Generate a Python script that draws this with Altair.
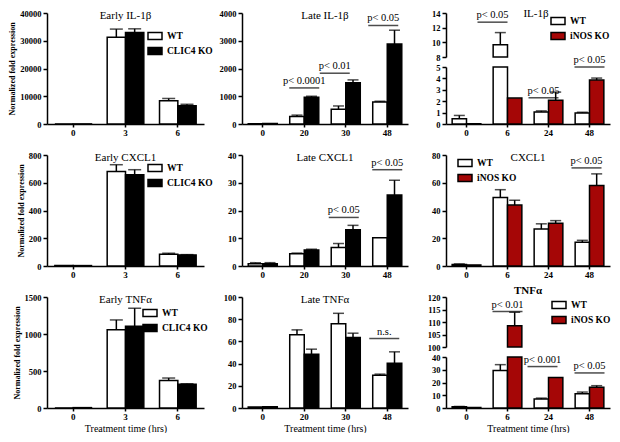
import altair as alt
import pandas as pd

FONT = "Liberation Serif"
RED = "#a50606"

# ---------------- data ----------------
early_times = ["0", "3", "6"]
late_times = ["0", "20", "30", "48"]
inos_times = ["0", "6", "24", "48"]

# Early IL-1b (WT vs CLIC4 KO)
e_il1b_wt = [0, 31300, 8400]
e_il1b_wt_err = [0, 2900, 800]
e_il1b_ko = [30, 33000, 6600]
e_il1b_ko_err = [0, 1300, 500]

# Late IL-1b
l_il1b_wt = [5, 270, 530, 790]
l_il1b_wt_err = [0, 50, 120, 30]
l_il1b_ko = [20, 965, 1490, 2880]
l_il1b_ko_err = [0, 35, 100, 500]
l_il1b_notes_t = ["20", "30", "48"]
l_il1b_notes_y = [1300, 1830, 3550]
l_il1b_notes = ["p< 0.0001", "p< 0.01", "p< 0.05"]

# IL-1b (WT vs iNOS KO), broken axis
i_il1b_wt = [0.45, 9.67, 1.06, 0.97]
i_il1b_wt_err = [0.3, 1.66, 0.09, 0.06]
i_il1b_ko = [0.02, 2.27, 2.09, 3.85]
i_il1b_ko_err = [0, 0, 0.71, 0.18]
i_il1b_notes_t = ["6", "24", "48"]
i_il1b_notes_y = [12.75, 2.3, 5.0]
i_il1b_notes = ["p< 0.05", "p< 0.05", "p< 0.05"]

# Early CXCL1
e_cxcl1_wt = [3, 681, 85]
e_cxcl1_wt_err = [0, 49, 7]
e_cxcl1_ko = [3, 657, 80]
e_cxcl1_ko_err = [0, 37, 2]

# Late CXCL1
l_cxcl1_wt = [0.8, 4.4, 6.7, 10.2]
l_cxcl1_wt_err = [0.4, 0.25, 1.4, 0]
l_cxcl1_ko = [0.8, 5.8, 13.1, 25.6]
l_cxcl1_ko_err = [0.4, 0.25, 1.55, 5.3]
l_cxcl1_notes_t = ["30", "48"]
l_cxcl1_notes_y = [17.5, 34.7]
l_cxcl1_notes = ["p< 0.05", "p< 0.05"]

# CXCL1 (iNOS)
i_cxcl1_wt = [1.0, 49.4, 26.6, 17.1]
i_cxcl1_wt_err = [0.5, 5.6, 3.8, 1.4]
i_cxcl1_ko = [0.8, 43.9, 30.8, 58.1]
i_cxcl1_ko_err = [0, 3.5, 1.9, 8.3]
i_cxcl1_notes_t = ["48"]
i_cxcl1_notes_y = [70.7]
i_cxcl1_notes = ["p< 0.05"]

# Early TNFa
e_tnf_wt = [0, 1057, 371]
e_tnf_wt_err = [0, 133, 34]
e_tnf_ko = [5, 1105, 320]
e_tnf_ko_err = [0, 243, 8]

# Late TNFa
l_tnf_wt = [1.0, 65.9, 76.0, 29.6]
l_tnf_wt_err = [0, 4.5, 9.3, 0.9]
l_tnf_ko = [1.2, 48.5, 63.5, 40.4]
l_tnf_ko_err = [0, 4.5, 3.9, 10.2]
l_tnf_notes_t = ["48"]
l_tnf_notes_y = [62.6]
l_tnf_notes = ["n.s."]

# TNFa (iNOS), broken axis
i_tnf_wt = [1.0, 29.5, 7.0, 11.25]
i_tnf_wt_err = [0.2, 4.5, 0.75, 1.25]
i_tnf_ko = [0.3, 108.5, 24.0, 16.25]
i_tnf_ko_err = [0, 5.4, 0, 1.25]
i_tnf_notes_t = ["6", "24", "48"]
i_tnf_notes_y = [114.2, 32.5, 27.5]
i_tnf_notes = ["p< 0.01", "p< 0.001", "p< 0.05"]


# ---------------- helpers ----------------
def frame(times, wt, wt_err, ko, ko_err, ko_name):
    rows = []
    for t, v, e in zip(times, wt, wt_err):
        rows.append({"time": t, "group": "WT", "value": v, "err": e, "top": v + e})
    for t, v, e in zip(times, ko, ko_err):
        rows.append({"time": t, "group": ko_name, "value": v, "err": e, "top": v + e})
    return pd.DataFrame(rows)


def notes_frame(ts, ys, labels):
    return pd.DataFrame({"time": ts, "y": ys, "label": labels})


def x_enc(times, xaxis, xtitle):
    xscale = alt.Scale(domain=times, paddingInner=0.3, paddingOuter=0.15)
    if xaxis:
        xax = alt.Axis(
            title="Treatment time (hrs)" if xtitle else None,
            labelAngle=0, labelFont=FONT, labelFontWeight="bold", labelFontSize=9,
            labelColor="black", labelPadding=1, tickSize=3, tickWidth=1.5,
            tickColor="black", domainColor="black", domainWidth=1.5,
            titleFont=FONT, titleFontSize=10, titleFontWeight="normal",
            titleColor="black", titlePadding=2,
        )
    else:
        xax = None
    return alt.X("time:N", sort=times, scale=xscale, axis=xax)


def y_axis(ticks, ytitle=False):
    return alt.Axis(
        values=ticks, tickCount=len(ticks), format="d", orient="left",
        labelOverlap=False, labelFlush=False, labelBound=False,
        title="Normalized fold expression" if ytitle else None,
        labelFont=FONT, labelFontWeight="bold", labelFontSize=8.5, labelColor="black",
        labelPadding=2, tickSize=4, tickWidth=1.5, tickColor="black",
        domainColor="black", domainWidth=1.5, grid=False,
        titleFont=FONT, titleFontSize=8, titleFontWeight="bold", titleColor="black",
        titlePadding=3,
    )


def fill_enc(ko_name, ko_color, legend_pos):
    grp = ["WT", ko_name]
    if legend_pos is not None:
        leg = alt.Legend(
            title=None, orient="none", legendX=legend_pos[0], legendY=legend_pos[1],
            symbolType="M-1,-0.5H1V0.5H-1Z", symbolSize=196,
            symbolStrokeColor="black", symbolStrokeWidth=1.5,
            labelFont=FONT, labelFontSize=9.5, labelFontWeight="bold",
            labelColor="black", labelOffset=4, rowPadding=0, padding=0,
        )
    else:
        leg = None
    return alt.Fill("group:N", sort=grp,
                    scale=alt.Scale(domain=grp, range=["white", ko_color]), legend=leg)


def sublayer(df, times, ko_name, ko_color, yscale, yax, legend_pos, notes, note_dx,
             note_size, xaxis, xtitle, cap, bar_filter=None, err_filter=None):
    grp = ["WT", ko_name]
    x = x_enc(times, xaxis, xtitle)
    xo = alt.XOffset("group:N", sort=grp,
                     scale=alt.Scale(domain=grp, paddingInner=0, paddingOuter=0))
    fill = fill_enc(ko_name, ko_color, legend_pos)
    base = alt.Chart(df)
    bbase = base.transform_filter(bar_filter) if bar_filter else base
    bars = bbase.mark_bar(stroke="black", strokeWidth=1.5).encode(
        x=x, xOffset=xo, y=alt.Y("value:Q", scale=yscale, axis=yax), fill=fill
    )
    ef = "datum.err > 0" + (" && " + err_filter if err_filter else "")
    errdf = base.transform_filter(ef)
    rules = errdf.mark_rule(color="black", strokeWidth=1.5).encode(
        x=x, xOffset=xo, y=alt.Y("value:Q", axis=yax), y2="top:Q"
    )
    caps = errdf.mark_tick(color="black", thickness=1.5, size=cap).encode(
        x=x, xOffset=xo, y=alt.Y("top:Q", axis=yax)
    )
    layers = [bars, rules, caps]
    if notes is not None:
        for i in range(len(notes)):
            row = notes.iloc[[i]]
            dx = note_dx.get(row["time"].iloc[0], 0) if note_dx else 0
            nb = alt.Chart(row)
            layers.append(nb.mark_tick(color="black", thickness=1.5, size=note_size,
                                       xOffset=dx).encode(x=x, y=alt.Y("y:Q", axis=yax)))
            layers.append(nb.mark_text(font=FONT, fontSize=10.5, baseline="bottom",
                                       dy=-2, dx=dx, color="black").encode(
                x=x, y=alt.Y("y:Q", axis=yax), text="label:N"))
    return alt.layer(*layers)


def titled(ch, title, bold=False, offset=-12, dx=0):
    return ch.properties(title=alt.TitleParams(
        title, font=FONT, fontSize=11, fontWeight="bold" if bold else "normal",
        color="black", offset=offset, dx=dx))


def panel(df, times, ko_name, ko_color, domain, ticks, width, height, title,
          legend_pos=None, notes=None, note_dx=None, note_size=30, xtitle=False,
          ytitle=False, cap=11, title_bold=False):
    ys = alt.Scale(domain=domain, nice=False, zero=False)
    ch = sublayer(df, times, ko_name, ko_color, ys, y_axis(ticks, ytitle), legend_pos,
                  notes, note_dx, note_size, True, xtitle, cap)
    ch = ch.properties(width=width, height=height)
    return titled(ch, title, title_bold)


def broken_panel(df, times, ko_name, ko_color, low_dom, low_ticks, up_dom, up_ticks,
                 width, height, up_h, gap, title, legend_pos=None, notes=None,
                 note_dx=None, note_size=30, xtitle=False, cap=11, title_bold=False,
                 title_offset=-12, title_dx=0):
    lo_scale = alt.Scale(domain=low_dom, range=[height, up_h + gap], nice=False,
                         zero=False, clamp=True)
    up_scale = alt.Scale(domain=up_dom, range=[up_h, 0], nice=False, zero=False,
                         clamp=True)
    lo_notes = notes[notes["y"] <= low_dom[1]] if notes is not None else None
    up_notes = notes[notes["y"] >= up_dom[0]] if notes is not None else None
    lower = sublayer(df, times, ko_name, ko_color, lo_scale, y_axis(low_ticks),
                     legend_pos, lo_notes, note_dx, note_size, True, xtitle, cap,
                     err_filter=f"datum.top <= {low_dom[1]}")
    upper = sublayer(df, times, ko_name, ko_color, up_scale, y_axis(up_ticks),
                     legend_pos, up_notes, note_dx, note_size, True, xtitle, cap,
                     bar_filter=f"datum.value > {up_dom[0]}",
                     err_filter=f"datum.value >= {up_dom[0]}")
    ch = alt.layer(lower, upper).resolve_scale(y="independent").properties(
        width=width, height=height)
    return titled(ch, title, title_bold, title_offset, title_dx)


W1, W2, W3 = 157, 166, 164
H = 111

p1 = panel(frame(early_times, e_il1b_wt, e_il1b_wt_err, e_il1b_ko, e_il1b_ko_err, "CLIC4 KO"),
           early_times, "CLIC4 KO", "black", [0, 40000], [0, 10000, 20000, 30000, 40000],
           W1, H, "Early IL-1β", legend_pos=(100, 15), ytitle=True, cap=13)
p2 = panel(frame(late_times, l_il1b_wt, l_il1b_wt_err, l_il1b_ko, l_il1b_ko_err, "CLIC4 KO"),
           late_times, "CLIC4 KO", "black", [0, 4000], [0, 1000, 2000, 3000, 4000],
           W2, H, "Late IL-1β",
           notes=notes_frame(l_il1b_notes_t, l_il1b_notes_y, l_il1b_notes),
           note_dx={"30": -11, "48": -4})
p3 = broken_panel(frame(inos_times, i_il1b_wt, i_il1b_wt_err, i_il1b_ko, i_il1b_ko_err, "iNOS KO"),
                  inos_times, "iNOS KO", RED, [0, 5], [0, 1, 2, 3, 4, 5], [8, 14], [8, 10, 12, 14],
                  W3, H, 44, 10, "IL-1β", legend_pos=(104, 0),
                  notes=notes_frame(i_il1b_notes_t, i_il1b_notes_y, i_il1b_notes),
                  note_dx={"6": -15, "24": -5}, title_dx=8, title_offset=-10)

p4 = panel(frame(early_times, e_cxcl1_wt, e_cxcl1_wt_err, e_cxcl1_ko, e_cxcl1_ko_err, "CLIC4 KO"),
           early_times, "CLIC4 KO", "black", [0, 800], [0, 200, 400, 600, 800],
           W1, H, "Early CXCL1", legend_pos=(100, 5), ytitle=True, cap=13)
p5 = panel(frame(late_times, l_cxcl1_wt, l_cxcl1_wt_err, l_cxcl1_ko, l_cxcl1_ko_err, "CLIC4 KO"),
           late_times, "CLIC4 KO", "black", [0, 40], [0, 10, 20, 30, 40],
           W2, H, "Late CXCL1",
           notes=notes_frame(l_cxcl1_notes_t, l_cxcl1_notes_y, l_cxcl1_notes),
           note_dx={"30": -2})
p6 = panel(frame(inos_times, i_cxcl1_wt, i_cxcl1_wt_err, i_cxcl1_ko, i_cxcl1_ko_err, "iNOS KO"),
           inos_times, "iNOS KO", RED, [0, 80], [0, 20, 40, 60, 80],
           W3, H, "CXCL1", legend_pos=(11, 0),
           notes=notes_frame(i_cxcl1_notes_t, i_cxcl1_notes_y, i_cxcl1_notes),
           note_dx={"48": -3})

p7 = panel(frame(early_times, e_tnf_wt, e_tnf_wt_err, e_tnf_ko, e_tnf_ko_err, "CLIC4 KO"),
           early_times, "CLIC4 KO", "black", [0, 1500], [0, 500, 1000, 1500],
           W1, H, "Early TNFα", legend_pos=(95, 8), ytitle=True, xtitle=True, cap=13)
p8 = panel(frame(late_times, l_tnf_wt, l_tnf_wt_err, l_tnf_ko, l_tnf_ko_err, "CLIC4 KO"),
           late_times, "CLIC4 KO", "black", [0, 100], [0, 20, 40, 60, 80, 100],
           W2, H, "Late TNFα", xtitle=True,
           notes=notes_frame(l_tnf_notes_t, l_tnf_notes_y, l_tnf_notes),
           note_dx={"48": -3})
p9 = broken_panel(frame(inos_times, i_tnf_wt, i_tnf_wt_err, i_tnf_ko, i_tnf_ko_err, "iNOS KO"),
                  inos_times, "iNOS KO", RED, [0, 40], [0, 10, 20, 30, 40], [100, 120],
                  [100, 105, 110, 115, 120], W3, H, 50, 10, "TNFα", legend_pos=(105, 0),
                  notes=notes_frame(i_tnf_notes_t, i_tnf_notes_y, i_tnf_notes),
                  note_dx={"24": -6}, xtitle=True, title_bold=True, title_offset=-3)

chart = alt.concat(p1, p2, p3, p4, p5, p6, p7, p8, p9, columns=3,
                   spacing={"row": 31, "column": 38}, bounds="flush").resolve_scale(
    x="independent", y="independent", fill="independent", xOffset="independent"
).resolve_legend(fill="independent").properties(
    padding=0, background="white"
).configure_view(stroke=None).configure_axis(labelOverlap=False)

chart.save("out.html", embed_options={"renderer": "svg", "actions": False})
